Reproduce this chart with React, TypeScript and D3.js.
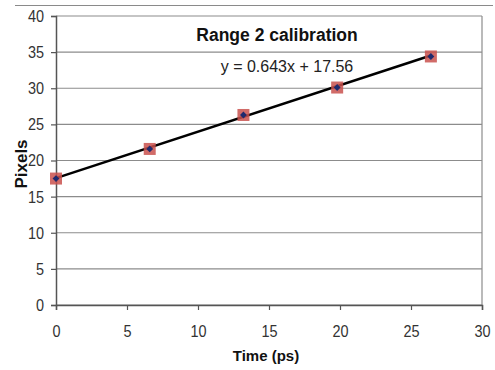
import * as d3 from "d3";
import { useEffect, useRef } from "react";

const timePs = [0, 6.6, 13.2, 19.8, 26.4];
const pixels = [17.5, 21.6, 26.3, 30.1, 34.4];
const slope = 0.643;
const intercept = 17.56;
const xTicks = [0, 5, 10, 15, 20, 25, 30];
const yTicks = [0, 5, 10, 15, 20, 25, 30, 35, 40];

export default function App() {
  const ref = useRef<SVGSVGElement | null>(null);
  useEffect(() => {
    if (!ref.current) return;
    const svg = d3.select(ref.current);
    svg.selectAll("*").remove();
    const width = 495;
    const height = 370;
    const margin = { top: 16, right: 13, bottom: 65, left: 56 };
    const font = "Liberation Sans, Arial, sans-serif";

    const x = d3.scaleLinear().domain([0, 30]).range([margin.left, width - margin.right]);
    const y = d3.scaleLinear().domain([0, 40]).range([height - margin.bottom, margin.top]);

    // top rule above the chart
    svg.append("line")
      .attr("x1", 15).attr("x2", 493).attr("y1", 5.5).attr("y2", 5.5)
      .attr("stroke", "#8a8a8a").attr("stroke-width", 1.2);

    // gridlines
    svg.append("g")
      .selectAll("line")
      .data(yTicks)
      .join("line")
      .attr("x1", x(0)).attr("x2", x(30))
      .attr("y1", (d) => y(d)).attr("y2", (d) => y(d))
      .attr("stroke", "#8c8c8c").attr("stroke-width", 1.2);

    // right border
    svg.append("line")
      .attr("x1", x(30)).attr("x2", x(30)).attr("y1", y(40)).attr("y2", y(0))
      .attr("stroke", "#8c8c8c").attr("stroke-width", 1.2);

    const ax = d3.axisBottom(x).tickValues(xTicks).tickSize(5).tickPadding(15).tickFormat(d3.format("d"));
    const gx = svg.append("g").attr("transform", `translate(0,${y(0)})`).call(ax as any);
    const ay = d3.axisLeft(y).tickValues(yTicks).tickSize(5).tickPadding(7).tickFormat(d3.format("d"));
    const gy = svg.append("g").attr("transform", `translate(${x(0)},0)`).call(ay as any);
    [gx, gy].forEach((g) => {
      g.select(".domain").attr("stroke", "#555").attr("stroke-width", 1.5);
      g.selectAll(".tick line").attr("stroke", "#555").attr("stroke-width", 1.2);
      g.selectAll(".tick text").attr("fill", "#333").attr("font-size", 17).attr("font-family", font)
        .style("transform-box", "fill-box").style("transform", "scaleX(0.85)");
    });
    gx.selectAll(".tick text").style("transform-origin", "center");
    gy.selectAll(".tick text").style("transform-origin", "right center");

    // trendline
    const xEnd = d3.max(timePs) ?? 0;
    svg.append("line")
      .attr("x1", x(0)).attr("y1", y(intercept))
      .attr("x2", x(xEnd)).attr("y2", y(slope * xEnd + intercept))
      .attr("stroke", "#000").attr("stroke-width", 2.6);

    const pts = timePs.map((t, i) => [t, pixels[i]] as [number, number]);
    svg.append("g")
      .selectAll("rect")
      .data(pts)
      .join("rect")
      .attr("x", (d) => x(d[0]) - 6).attr("y", (d) => y(d[1]) - 6)
      .attr("width", 12).attr("height", 12)
      .attr("fill", "#c9514e").attr("opacity", 0.85);
    svg.append("g")
      .selectAll("path")
      .data(pts)
      .join("path")
      .attr("d", d3.symbol(d3.symbolDiamond2, 30) as any)
      .attr("transform", (d) => `translate(${x(d[0])},${y(d[1])})`)
      .attr("fill", "#1f2a6e");

    svg.append("text")
      .attr("x", 277).attr("y", 41).attr("text-anchor", "middle")
      .attr("font-family", font).attr("font-weight", "bold").attr("font-size", 17.5)
      .attr("fill", "#111").text("Range 2 calibration");
    svg.append("text")
      .attr("x", 287).attr("y", 72).attr("text-anchor", "middle")
      .attr("font-family", font).attr("font-size", 16)
      .attr("fill", "#222").text(`y = ${slope}x + ${intercept}`);

    svg.append("text")
      .attr("x", 266).attr("y", 361).attr("text-anchor", "middle")
      .attr("font-family", font).attr("font-weight", "bold").attr("font-size", 15)
      .attr("fill", "#111").text("Time (ps)");
    svg.append("text")
      .attr("transform", "translate(27,164) rotate(-90)").attr("text-anchor", "middle")
      .attr("font-family", font).attr("font-weight", "bold").attr("font-size", 17)
      .attr("fill", "#111").text("Pixels");
  }, []);
  return (
    <svg
      ref={ref}
      width={495}
      height={370}
      style={{ position: "absolute", left: 0, top: 0, background: "#fff" }}
    />
  );
}
